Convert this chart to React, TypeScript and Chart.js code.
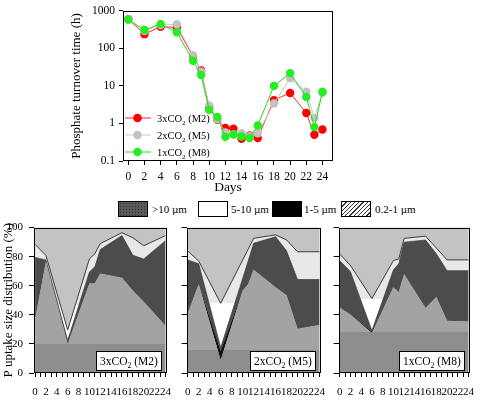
import React, { useEffect, useRef } from "react";
import { Chart, registerables } from "chart.js";

Chart.register(...registerables);

const SERIF = "'Liberation Serif', 'Times New Roman', Times, serif";
Chart.defaults.font.family = SERIF;
Chart.defaults.color = "#000";

// ---------------- Top chart: phosphate turnover time (h), log scale ----------------
const turnoverDays = [0, 2, 4, 6, 8, 9, 10, 11, 12, 13, 14, 15, 16, 18, 20, 22, 23, 24];
const turnoverM2 = [600, 240, 380, 360, 62, 26, 2.7, 1.25, 0.76, 0.73, 0.39, 0.48, 0.41, 4.2, 6.5, 1.9, 0.5, 0.69];
const turnoverM5 = [590, 290, 420, 440, 66, 24, 3.0, 1.3, 0.58, 0.52, 0.55, 0.46, 0.55, 3.4, 16, 7, 1.4, 6.5];
const turnoverM8 = [590, 310, 450, 270, 47, 19.5, 2.3, 1.5, 0.44, 0.51, 0.45, 0.41, 0.88, 10, 22, 5.1, 0.8, 7];
const turnoverYTicks = [0.1, 1, 10, 100, 1000];
const seriesLabels = ["3xCO₂ (M2)", "2xCO₂ (M5)", "1xCO₂ (M8)"];

// ---------------- Bottom panels: P uptake size distribution (%) ----------------
const sizeDays = [0, 2, 6, 10, 11, 12, 16, 18, 20, 24];
const sizeClassLabels = [">10 µm", "5-10 µm", "1-5 µm", "0.2-1 µm"];
// cumulative upper edges (%), stacked from the bottom: 0.2-1, then 1-5, then >10, then 5-10
const m2Upper02to1 = [37, 76.5, 20, 61.5, 61.5, 68.5, 65.5, 56.5, 49, 32.5];
const m2Upper1to5 = [37.3, 76.8, 21, 61.8, 61.8, 68.8, 65.8, 56.8, 49.3, 32.8];
const m2UpperOver10 = [79.5, 77.8, 22.5, 69.5, 73, 85, 94.5, 81, 78.4, 91];
const m2Upper5to10 = [88.5, 80.8, 29.5, 78.5, 82, 89, 96.5, 93, 87.5, 94.5];

const m5Upper02to1 = [41, 61, 8.7, 56.5, 61, 71, 59, 53.5, 30.5, 33];
const m5Upper1to5 = [41.3, 61.3, 15, 56.8, 61.3, 71.3, 59.3, 53.8, 30.8, 33.3];
const m5UpperOver10 = [77.8, 75.2, 17.5, 65, 77, 89.3, 93.7, 84, 64.3, 64.3];
const m5Upper5to10 = [83.9, 77, 47.9, 77.7, 85, 92.6, 95, 91.5, 83.4, 83.4];

const m8Upper02to1 = [45, 40, 27.5, 59, 55.5, 68, 44.7, 52.3, 36, 35.4];
const m8Upper1to5 = [45.3, 40.3, 28.5, 59.3, 55.8, 68.3, 45, 52.6, 36.3, 35.7];
const m8UpperOver10 = [77.3, 69.7, 29.2, 70.8, 75.2, 90, 91.5, 82, 70.4, 70.4];
const m8Upper5to10 = [81.7, 74, 51.2, 77.3, 78.4, 92.6, 94.1, 86, 77.8, 77.8];

const panelLabels = ["3xCO₂ (M2)", "2xCO₂ (M5)", "1xCO₂ (M8)"];

// ---------------- helpers ----------------
function drawChemText(ctx: CanvasRenderingContext2D, text: string, x: number, y: number, size: number, draw = true) {
  const parts = text.split("₂");
  const pre = parts[0];
  const post = parts[1] ?? "";
  ctx.textAlign = "left";
  ctx.textBaseline = "alphabetic";
  ctx.font = `${size}px ${SERIF}`;
  let w = 0;
  if (draw) ctx.fillText(pre, x, y);
  w += ctx.measureText(pre).width;
  if (parts.length > 1) {
    ctx.font = `${size * 0.68}px ${SERIF}`;
    if (draw) ctx.fillText("2", x + w, y + size * 0.28);
    w += ctx.measureText("2").width;
    ctx.font = `${size}px ${SERIF}`;
    if (draw) ctx.fillText(post, x + w, y);
    w += ctx.measureText(post).width;
  }
  return w;
}

const boxPlugin = {
  id: "boxFrame",
  afterDraw(chart: any) {
    const { ctx, chartArea: a } = chart;
    ctx.save();
    ctx.strokeStyle = "#000";
    ctx.lineWidth = 1;
    ctx.strokeRect(Math.round(a.left) + 0.5, Math.round(a.top) + 0.5, Math.round(a.right - a.left) - 1, Math.round(a.bottom - a.top) - 1);
    ctx.restore();
  },
};

const topLegendPlugin = {
  id: "topLegend",
  afterDatasetsDraw(chart: any) {
    const { ctx, chartArea: a } = chart;
    const rowOffsets = [-43, -26, -9];
    ctx.save();
    chart.data.datasets.forEach((ds: any, i: number) => {
      const y = a.bottom + rowOffsets[i];
      ctx.strokeStyle = ds.borderColor;
      ctx.lineWidth = 1;
      ctx.beginPath();
      ctx.moveTo(a.left + 2, y);
      ctx.lineTo(a.left + 28, y);
      ctx.stroke();
      ctx.fillStyle = ds.pointBackgroundColor;
      ctx.beginPath();
      ctx.arc(a.left + 14.5, y, 4.3, 0, Math.PI * 2);
      ctx.fill();
      ctx.fillStyle = "#000";
      drawChemText(ctx, ds.label, a.left + 34, y + 3.6, 10.5);
    });
    ctx.restore();
  },
};

function ChartCanvas({ left, top, width, height, makeConfig }: { left: number; top: number; width: number; height: number; makeConfig: () => any }) {
  const ref = useRef<HTMLCanvasElement | null>(null);
  useEffect(() => {
    const chart = new Chart(ref.current as HTMLCanvasElement, makeConfig());
    return () => chart.destroy();
  }, []);
  return (
    <canvas
      ref={ref}
      width={width}
      height={height}
      style={{ position: "absolute", left, top, width, height }}
    />
  );
}

function topConfig() {
  const mk = (label: string, data: number[], line: string, point: string, order: number) => ({
    label,
    data: turnoverDays.map((d, i) => ({ x: d, y: data[i] })),
    borderColor: line,
    backgroundColor: point,
    pointBackgroundColor: point,
    pointBorderColor: point,
    pointBorderWidth: 0,
    pointRadius: 4.2,
    borderWidth: 1,
    tension: 0,
    fill: false,
    order,
  });
  return {
    type: "line",
    data: {
      datasets: [
        mk(seriesLabels[0], turnoverM2, "#ff2a2a", "#ff0000", 2),
        mk(seriesLabels[1], turnoverM5, "#c8c8c8", "#c2c2c2", 1),
        mk(seriesLabels[2], turnoverM8, "#22d822", "#22ee22", 0),
      ],
    },
    options: {
      responsive: false,
      animation: false,
      layout: { padding: { left: 69, top: 9, right: 12, bottom: 0 } },
      plugins: { legend: { display: false }, tooltip: { enabled: false } },
      scales: {
        x: {
          type: "linear",
          min: -0.65,
          max: 25.3,
          afterFit: (s: any) => { s.height = 39; },
          ticks: { stepSize: 2, includeBounds: false, autoSkip: false, maxRotation: 0, padding: 5, font: { size: 11.5 }, color: "#000" },
          grid: { drawOnChartArea: false, drawTicks: true, tickLength: 4, color: "#000", lineWidth: 1 },
          border: { display: false },
          title: { display: true, text: "Days", font: { size: 13.5 }, color: "#000", padding: { top: 0, bottom: 4 } },
        },
        y: {
          type: "logarithmic",
          min: 0.1,
          max: 1000,
          afterFit: (s: any) => { s.width = 54; },
          afterBuildTicks: (s: any) => { s.ticks = turnoverYTicks.map((v) => ({ value: v })); },
          ticks: { callback: (v: any) => String(v), padding: 4, font: { size: 11.5 }, color: "#000" },
          grid: { drawOnChartArea: false, drawTicks: true, tickLength: 4, color: "#000", lineWidth: 1 },
          border: { display: false },
          title: { display: true, text: "Phosphate turnover time (h)", font: { size: 13 }, color: "#000", padding: { top: 0, bottom: 0 } },
        },
      },
    },
    plugins: [boxPlugin, topLegendPlugin],
  };
}

type PanelSpec = {
  label: string;
  fine: number[];
  small: number[];
  large: number[];
  total: number[];
  lowBand: number;
  highBand: number;
  axisWidth: number;
  padRight: number;
  showYLabels: boolean;
};

function splitGradient(chart: any, value: number, below: string, above: string) {
  const { chartArea, scales } = chart;
  if (!chartArea) return below;
  const yPix = scales.y.getPixelForValue(value);
  const g = chart.ctx.createLinearGradient(0, chartArea.bottom, 0, chartArea.top);
  const t = Math.min(1, Math.max(0, (chartArea.bottom - yPix) / (chartArea.bottom - chartArea.top)));
  g.addColorStop(0, below);
  g.addColorStop(t, below);
  g.addColorStop(t, above);
  g.addColorStop(1, above);
  return g;
}

function panelConfig(p: PanelSpec) {
  const pts = (arr: number[]) => sizeDays.map((d, i) => ({ x: d, y: arr[i] }));
  const bgPlugin = {
    id: "panelBg",
    beforeDatasetsDraw(chart: any) {
      const { ctx, scales } = chart;
      const x0 = scales.x.getPixelForValue(sizeDays[0]);
      const x1 = scales.x.getPixelForValue(sizeDays[sizeDays.length - 1]);
      const y0 = scales.y.getPixelForValue(0);
      const y1 = scales.y.getPixelForValue(100);
      ctx.save();
      ctx.fillStyle = "#c3c3c3";
      ctx.fillRect(x0, y1, x1 - x0, y0 - y1);
      ctx.restore();
    },
  };
  const labelPlugin = {
    id: "panelLabel",
    afterDraw(chart: any) {
      const { ctx, chartArea: a } = chart;
      ctx.save();
      const size = 11.5;
      const w = drawChemText(ctx, p.label, 0, 0, size, false);
      const bw = Math.round(w + 8);
      const bh = 20;
      const right = Math.round(a.right) - 5;
      const bottom = Math.round(a.bottom) - 2;
      ctx.fillStyle = "#fff";
      ctx.fillRect(right - bw, bottom - bh, bw, bh);
      ctx.strokeStyle = "#000";
      ctx.lineWidth = 1;
      ctx.strokeRect(right - bw + 0.5, bottom - bh + 0.5, bw - 1, bh - 1);
      ctx.fillStyle = "#000";
      drawChemText(ctx, p.label, right - bw + 4, bottom - 6, size);
      ctx.restore();
    },
  };
  const common = { pointRadius: 0, tension: 0, borderColor: "transparent", borderWidth: 1 };
  return {
    type: "line",
    data: {
      datasets: [
        { ...common, label: sizeClassLabels[3], data: pts(p.fine), fill: "origin",
          backgroundColor: (c: any) => splitGradient(c.chart, p.lowBand, "#8d8d8d", "#a3a3a3") },
        { ...common, label: sizeClassLabels[2], data: pts(p.small), fill: "-1", backgroundColor: "#111111" },
        { ...common, label: sizeClassLabels[0], data: pts(p.large), fill: "-1", backgroundColor: "#4c4c4c",
          borderColor: "#3a3a3a", borderWidth: 0.6 },
        { ...common, label: sizeClassLabels[1], data: pts(p.total), fill: "-1",
          backgroundColor: (c: any) => splitGradient(c.chart, p.highBand, "#ffffff", "#e8e8e8"),
          borderColor: "#3c3c3c", borderWidth: 1 },
      ],
    },
    options: {
      responsive: false,
      animation: false,
      layout: { padding: { left: 0, top: 5, right: p.padRight, bottom: 0 } },
      plugins: { legend: { display: false }, tooltip: { enabled: false } },
      scales: {
        x: {
          type: "linear",
          min: -0.2,
          max: 24.3,
          afterFit: (s: any) => { s.height = 27; },
          ticks: {
            stepSize: 1, includeBounds: false, autoSkip: false, maxRotation: 0, padding: 9,
            font: { size: 11 }, color: "#000",
            callback: (v: any) => (Number.isInteger(v) && v % 2 === 0 ? String(v) : ""),
          },
          grid: { drawOnChartArea: false, drawTicks: true, tickLength: 4, color: "#000", lineWidth: 1 },
          border: { display: false },
        },
        y: {
          type: "linear",
          min: 0,
          max: 100,
          afterFit: (s: any) => { s.width = p.axisWidth; },
          ticks: {
            stepSize: 10, padding: 6, font: { size: 11 }, color: "#000",
            callback: (v: any) => (p.showYLabels && v % 20 === 0 ? String(v) : ""),
          },
          grid: { drawOnChartArea: false, drawTicks: true, tickLength: 5, color: "#000", lineWidth: 1 },
          border: { display: false },
          title: {
            display: p.showYLabels, text: "P uptake size distribution (%)", font: { size: 13 }, color: "#000",
            padding: { top: 1, bottom: 0 },
          },
        },
      },
    },
    plugins: [bgPlugin, boxPlugin, labelPlugin],
  };
}

const panels: { left: number; width: number; spec: PanelSpec }[] = [
  { left: 0, width: 180, spec: { label: panelLabels[0], fine: m2Upper02to1, small: m2Upper1to5, large: m2UpperOver10, total: m2Upper5to10, lowBand: 20, highBand: 47, axisWidth: 34, padRight: 4, showYLabels: true } },
  { left: 176, width: 158, spec: { label: panelLabels[1], fine: m5Upper02to1, small: m5Upper1to5, large: m5UpperOver10, total: m5Upper5to10, lowBand: 16, highBand: 48, axisWidth: 8, padRight: 4, showYLabels: false } },
  { left: 328, width: 155, spec: { label: panelLabels[2], fine: m8Upper02to1, small: m8Upper1to5, large: m8UpperOver10, total: m8Upper5to10, lowBand: 28, highBand: 51, axisWidth: 8, padRight: 2, showYLabels: false } },
];

const swatchStyles: React.CSSProperties[] = [
  { backgroundColor: "#5a5a5a", backgroundImage: "radial-gradient(#2e2e2e 38%, transparent 40%)", backgroundSize: "3px 3px" },
  { backgroundColor: "#ffffff" },
  { backgroundColor: "#000000" },
  { backgroundColor: "#ffffff", backgroundImage: "repeating-linear-gradient(-45deg, #ffffff 0px, #ffffff 2px, #333333 2px, #333333 3px)" },
];
const swatchLefts = [118, 198, 272, 341];
const legendTextLefts = [152, 231, 304, 375];

export default function App() {
  return (
    <div style={{ position: "absolute", left: 0, top: 0, width: 483, height: 400, background: "#fff", overflow: "hidden" }}>
      <ChartCanvas left={0} top={0} width={345} height={200} makeConfig={topConfig} />
      {sizeClassLabels.map((lab, i) => (
        <React.Fragment key={lab}>
          <div
            style={{
              position: "absolute", left: swatchLefts[i], top: 201, width: 30, height: 16,
              boxSizing: "border-box", border: "1px solid #000", ...swatchStyles[i],
            }}
          />
          <div
            style={{
              position: "absolute", left: legendTextLefts[i], top: 201, height: 16, lineHeight: "16px",
              fontFamily: SERIF, fontSize: 11, color: "#000", whiteSpace: "nowrap",
            }}
          >
            {lab}
          </div>
        </React.Fragment>
      ))}
      {panels.map((p, i) => (
        <ChartCanvas key={i} left={p.left} top={215} width={p.width} height={185} makeConfig={() => panelConfig(p.spec)} />
      ))}
    </div>
  );
}
